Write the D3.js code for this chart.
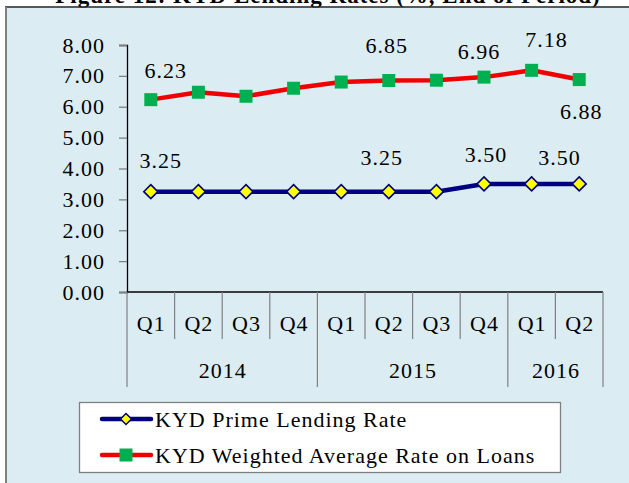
<!DOCTYPE html>
<html>
<head>
<meta charset="utf-8">
<script src="https://cdn.jsdelivr.net/npm/d3@7"></script>
<style>
  html, body { margin: 0; padding: 0; background: #ffffff; }
  svg { display: block; }
  text { font-family: "Liberation Serif", "Times New Roman", serif; fill: #000; letter-spacing: 1px; }
</style>
</head>
<body>
<svg id="chart" width="629" height="483"></svg>
<script>
// ---- data ----
const quarters = ["Q1", "Q2", "Q3", "Q4", "Q1", "Q2", "Q3", "Q4", "Q1", "Q2"];
const years = ["2014", "2015", "2016"];
const quartersPerYear = [4, 4, 2];
const primeRate = [3.25, 3.25, 3.25, 3.25, 3.25, 3.25, 3.25, 3.50, 3.50, 3.50];
const weightedRate = [6.23, 6.47, 6.34, 6.60, 6.80, 6.85, 6.86, 6.96, 7.18, 6.88];
const yTicks = [0, 1, 2, 3, 4, 5, 6, 7, 8];
const seriesNames = ["KYD Prime Lending Rate", "KYD Weighted Average Rate on Loans"];
const titleText = "Figure 12: KYD Lending Rates (%, End of Period)";
const primeLabelIdx = [0, 5, 7, 8];
const weightedLabelIdx = [0, 5, 7, 8, 9];

// ---- layout (positions/styles only) ----
const primeLabelOffset = { 0: [10, -24], 5: [-7, -27], 7: [2, -22], 8: [28, -19] };
const weightedLabelOffset = { 0: [15, -22], 5: [-2, -28], 7: [-5, -18], 8: [15, -23], 9: [2, 39] };
const FS = 22;

const svg = d3.select("#chart");

// title (cut off at top as in reference)
svg.append("text")
  .attr("x", 328).attr("y", 3)
  .attr("text-anchor", "middle")
  .attr("font-weight", "bold")
  .attr("font-size", 23)
  .text(titleText);

// panel background
svg.append("rect")
  .attr("x", 6).attr("y", 7.5)
  .attr("width", 630).attr("height", 480)
  .attr("fill", "#DBEDF3");
svg.append("line")
  .attr("x1", 5).attr("x2", 629).attr("y1", 7).attr("y2", 7)
  .attr("stroke", "#222").attr("stroke-width", 1.5);
svg.append("line")
  .attr("x1", 6).attr("x2", 6).attr("y1", 7).attr("y2", 483)
  .attr("stroke", "#808080").attr("stroke-width", 2);

// scales
const x = d3.scaleBand().domain(d3.range(quarters.length)).range([127, 603]).padding(0);
const y = d3.scaleLinear().domain([0, 8]).range([292, 45]);
const cx = i => x(i) + x.bandwidth() / 2;

// y axis
const yAxis = svg.append("g")
  .attr("transform", "translate(127,0)")
  .call(d3.axisLeft(y).tickValues(yTicks).tickFormat(d3.format(".2f")).tickSize(8).tickPadding(14));
yAxis.select(".domain").attr("stroke", "#000").attr("stroke-width", 1.3);
yAxis.selectAll(".tick line").attr("stroke", "#808080").attr("stroke-width", 1.3);
yAxis.selectAll(".tick text")
  .attr("font-size", FS)
  .attr("font-family", "Liberation Serif, serif")
  .attr("fill", "#000");

// x axis line
svg.append("line")
  .attr("x1", x(0)).attr("x2", x.range()[1])
  .attr("y1", y(0)).attr("y2", y(0))
  .attr("stroke", "#000").attr("stroke-width", 1.3);

// quarter separators
const yearStarts = [];
let acc = 0;
quartersPerYear.forEach(n => { yearStarts.push(acc); acc += n; });
const boundaries = d3.range(quarters.length + 1);
svg.append("g").selectAll("line").data(boundaries).join("line")
  .attr("x1", i => i < quarters.length ? x(i) : x.range()[1])
  .attr("x2", i => i < quarters.length ? x(i) : x.range()[1])
  .attr("y1", y(0))
  .attr("y2", i => (yearStarts.includes(i) || i === quarters.length) ? 387 : 339)
  .attr("stroke", "#808080").attr("stroke-width", 1.2);

// quarter labels
svg.append("g").selectAll("text").data(quarters).join("text")
  .attr("x", (d, i) => cx(i) + 0.5)
  .attr("y", 323)
  .attr("dy", "0.35em")
  .attr("text-anchor", "middle")
  .attr("font-size", FS)
  .text(d => d);

// year labels
svg.append("g").selectAll("text").data(years).join("text")
  .attr("x", (d, k) => {
    const s = yearStarts[k], e = s + quartersPerYear[k];
    const right = e < quarters.length ? x(e) : x.range()[1];
    return (x(s) + right) / 2 + 0.5;
  })
  .attr("y", 370)
  .attr("dy", "0.35em")
  .attr("text-anchor", "middle")
  .attr("font-size", FS)
  .text(d => d);

// lines
const lineGen = d3.line().x((d, i) => cx(i)).y(d => y(d));
svg.append("path").datum(weightedRate)
  .attr("d", lineGen).attr("fill", "none")
  .attr("stroke", "#F00000").attr("stroke-width", 4.5).attr("stroke-linejoin", "round");
svg.append("path").datum(primeRate)
  .attr("d", lineGen).attr("fill", "none")
  .attr("stroke", "#000080").attr("stroke-width", 4.5).attr("stroke-linejoin", "round");

// markers
const sq = 13;
svg.append("g").selectAll("rect").data(weightedRate).join("rect")
  .attr("x", (d, i) => cx(i) - sq / 2)
  .attr("y", d => y(d) - sq / 2)
  .attr("width", sq).attr("height", sq)
  .attr("fill", "#00B050");
const dia = 7;
svg.append("g").selectAll("path").data(primeRate).join("path")
  .attr("d", (d, i) => {
    const px = cx(i), py = y(d);
    return `M${px},${py - dia}L${px + dia},${py}L${px},${py + dia}L${px - dia},${py}Z`;
  })
  .attr("fill", "#FFFF00").attr("stroke", "#000080").attr("stroke-width", 1.6);

// data labels
const fmt = d3.format(".2f");
svg.append("g").selectAll("text").data(weightedLabelIdx).join("text")
  .attr("x", i => cx(i) + weightedLabelOffset[i][0])
  .attr("y", i => y(weightedRate[i]) + weightedLabelOffset[i][1])
  .attr("text-anchor", "middle")
  .attr("font-size", FS)
  .text(i => fmt(weightedRate[i]));
svg.append("g").selectAll("text").data(primeLabelIdx).join("text")
  .attr("x", i => cx(i) + primeLabelOffset[i][0])
  .attr("y", i => y(primeRate[i]) + primeLabelOffset[i][1])
  .attr("text-anchor", "middle")
  .attr("font-size", FS)
  .text(i => fmt(primeRate[i]));

// legend
const lg = svg.append("g");
lg.append("rect")
  .attr("x", 79.5).attr("y", 402.5).attr("width", 481).attr("height", 70)
  .attr("fill", "#ffffff").attr("stroke", "#808080").attr("stroke-width", 1.3);
const rowsY = [419, 455];
const colors = ["#000080", "#F00000"];
seriesNames.forEach((name, k) => {
  lg.append("line")
    .attr("x1", 102).attr("x2", 151).attr("y1", rowsY[k]).attr("y2", rowsY[k])
    .attr("stroke", colors[k]).attr("stroke-width", 4.5).attr("stroke-linecap", "round");
  if (k === 0) {
    const px = 126, py = rowsY[k], r = 5.5;
    lg.append("path")
      .attr("d", `M${px},${py - r}L${px + r},${py}L${px},${py + r}L${px - r},${py}Z`)
      .attr("fill", "#FFFF00").attr("stroke", "#000080").attr("stroke-width", 1.5);
  } else {
    lg.append("rect")
      .attr("x", 126 - 6.5).attr("y", rowsY[k] - 6.5).attr("width", 13).attr("height", 13)
      .attr("fill", "#00B050");
  }
  lg.append("text")
    .attr("x", 155).attr("y", rowsY[k]).attr("dy", "0.35em")
    .attr("font-size", FS)
    .text(name);
});
</script>
</body>
</html>
